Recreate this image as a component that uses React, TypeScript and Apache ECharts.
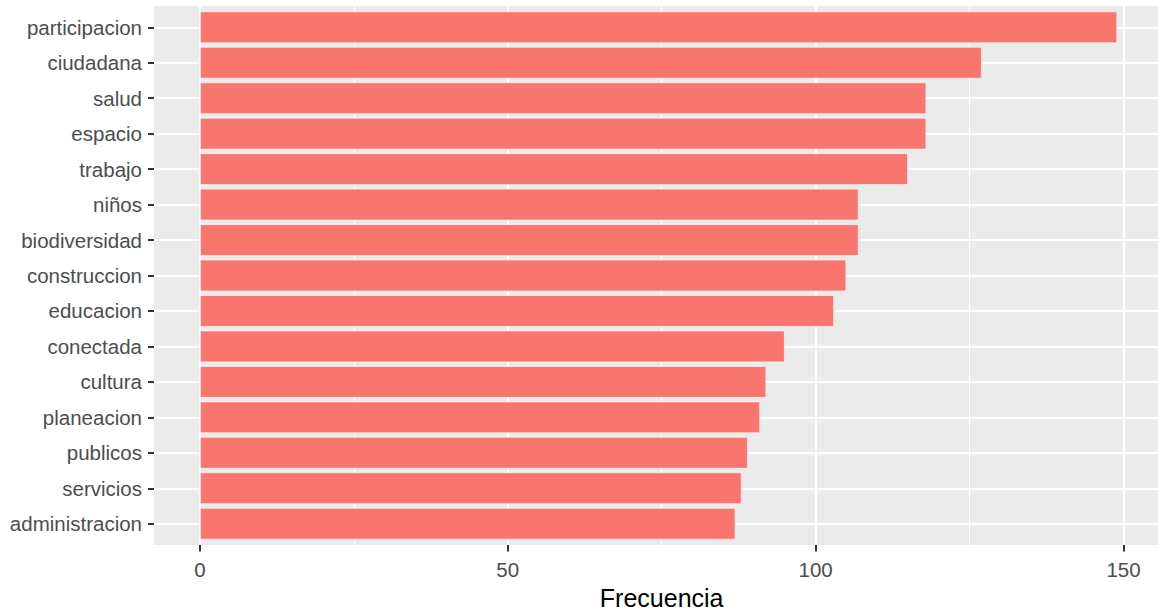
import React, { useEffect, useRef } from "react";
import * as echarts from "echarts";

const categories: string[] = [
  "participacion",
  "ciudadana",
  "salud",
  "espacio",
  "trabajo",
  "niños",
  "biodiversidad",
  "construccion",
  "educacion",
  "conectada",
  "cultura",
  "planeacion",
  "publicos",
  "servicios",
  "administracion",
];
const frecuencia: number[] = [149, 127, 118, 118, 115, 107, 107, 105, 103, 95, 92, 91, 89, 88, 87];
const xTickMin = 0;
const xTickMax = 150;
const xTickStep = 50;
const xAxisTitle = "Frecuencia";

export default function App() {
  const ref = useRef<HTMLDivElement>(null);
  useEffect(() => {
    if (!ref.current) return;
    const chart = echarts.init(ref.current, undefined, { renderer: "svg" });
    const maxV = Math.max(...frecuencia);
    const xMin = -0.05 * maxV;
    const xMax = maxV * 1.05;
    const n = categories.length;
    const font = "'Liberation Sans', Arial, Helvetica, sans-serif";
    const panelTop = 6;
    const panelBottom = 545;
    const panelLeft = 154;
    const panelWidth = 1009.2;
    const pxPerUnit = panelWidth / (xMax - xMin);
    const zeroX = panelLeft + (0 - xMin) * pxPerUnit;
    const unit = (panelBottom - panelTop) / (n - 1 + 1.2);
    chart.setOption({
      animation: false,
      grid: [
        {
          left: panelLeft,
          width: panelWidth,
          top: panelTop,
          height: panelBottom - panelTop,
          show: true,
          backgroundColor: "#EBEBEB",
          borderWidth: 0,
          containLabel: false,
          outerBoundsMode: "none",
        },
        {
          left: zeroX,
          width: (xTickMax - xTickMin) * pxPerUnit,
          top: panelTop,
          height: panelBottom - panelTop,
          show: false,
          containLabel: false,
          outerBoundsMode: "none",
        },
        {
          left: panelLeft,
          width: panelWidth,
          top: panelTop + 0.1 * unit,
          height: n * unit,
          show: false,
          containLabel: false,
          outerBoundsMode: "none",
        },
      ],
      xAxis: [
        { type: "value", gridIndex: 0, min: xMin, max: xMax, show: false, splitLine: { show: false } },
        {
          type: "value",
          gridIndex: 1,
          min: xTickMin,
          max: xTickMax,
          interval: xTickStep,
          name: xAxisTitle,
          nameLocation: "middle",
          nameGap: 40,
          nameTextStyle: { color: "#000000", fontSize: 25, fontFamily: font },
          axisLine: { show: false, onZero: false },
          axisTick: {
            show: true,
            length: 6.5,
            lineStyle: { color: "#333333", width: 2 },
          },
          axisLabel: {
            show: true,
            margin: 14,
            color: "#4D4D4D",
            fontSize: 20.5,
            fontFamily: font,
          },
          splitLine: { show: true, lineStyle: { color: "#FFFFFF", width: 2 } },
          minorTick: { show: false, splitNumber: 2 },
          minorSplitLine: { show: true, lineStyle: { color: "#FFFFFF", width: 1 } },
        },
        { type: "value", gridIndex: 2, min: xMin, max: xMax, show: false, splitLine: { show: false } },
      ],
      yAxis: [
        { type: "value", gridIndex: 0, show: false, splitLine: { show: false } },
        { type: "value", gridIndex: 1, show: false, splitLine: { show: false } },
        {
          type: "category",
          gridIndex: 2,
          data: categories,
          inverse: true,
          axisLine: { show: false, onZero: false },
          axisTick: {
            show: true,
            alignWithLabel: true,
            length: 6,
            lineStyle: { color: "#333333", width: 2 },
          },
          axisLabel: {
            margin: 12,
            padding: [3, 0, 0, 0],
            color: "#4D4D4D",
            fontSize: 20.5,
            fontFamily: font,
          },
          splitLine: { show: false },
        },
      ],
      series: [
        {
          type: "line",
          xAxisIndex: 2,
          yAxisIndex: 2,
          data: [],
          z: 1,
          silent: true,
          markLine: {
            z: 1,
            silent: true,
            symbol: "none",
            label: { show: false },
            lineStyle: { color: "#FFFFFF", width: 2, type: "solid" },
            data: categories.map((c) => ({ yAxis: c })),
          },
        },
        {
          type: "bar",
          xAxisIndex: 2,
          yAxisIndex: 2,
          data: frecuencia,
          barWidth: "90%",
          z: 3,
          itemStyle: {
            color: "#F8766D",
            borderColor: "rgba(255,255,255,0.6)",
            borderWidth: 1,
          },
        },
      ],
    });
    return () => chart.dispose();
  }, []);
  return (
    <div
      ref={ref}
      style={{ position: "fixed", left: 0, top: 0, width: 1158, height: 612, background: "#FFFFFF" }}
    />
  );
}
